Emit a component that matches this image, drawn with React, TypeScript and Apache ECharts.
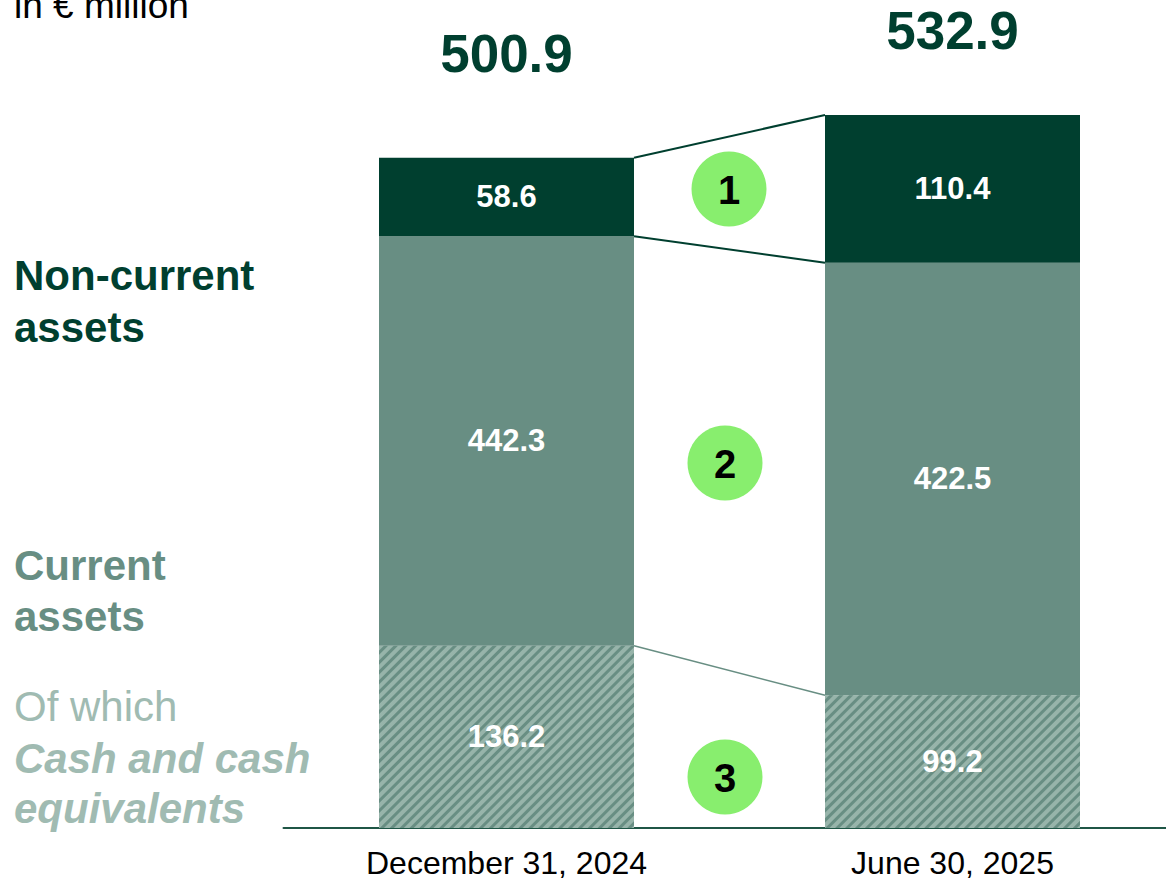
import React, { useEffect, useRef } from "react";
import * as echarts from "echarts";

const categories = ["December 31, 2024", "June 30, 2025"];
const cashValues = [136.2, 99.2];
const currentTotals = [442.3, 422.5];
const nonCurrentValues = [58.6, 110.4];
const totals = [500.9, 532.9];
const otherCurrent = currentTotals.map((v, i) => Math.round((v - cashValues[i]) * 10) / 10);
// connectors: [from value at bar 1, to value at bar 2]
const connectorFrom = [500.9, 442.3, 136.2];
const connectorTo = [532.9, 422.5, 99.2];
const markerLabels = ["1", "2", "3"];

const FONT = "'Liberation Sans', Arial, Helvetica, sans-serif";
const DARK = "#003f2f";
const MID = "#688e83";
const LIGHT = "#97b4aa";
const PALE = "#a0bbb2";
const BAR_W = 255;

export default function App() {
  const ref = useRef<HTMLDivElement>(null);
  useEffect(() => {
    if (!ref.current) return;
    const chart = echarts.init(ref.current, null, { renderer: "svg" });
    const connectorColors = [DARK, DARK, MID];
    const totalOffsets = [-104, -84];
    const markerPos = [
      [729, 189],
      [725, 463],
      [725, 777],
    ];
    const barLabel = {
      show: true,
      position: "inside",
      color: "#fff",
      fontFamily: FONT,
      fontWeight: "bold",
      fontSize: 31,
    };
    const option: any = {
      animation: false,
      grid: { left: 283.5, width: 892, top: 25.2, bottom: 53 },
      xAxis: {
        type: "category",
        data: categories,
        axisLine: { lineStyle: { color: "#1f5646", width: 2 } },
        axisTick: { show: false },
        axisLabel: { color: "#000", fontFamily: FONT, fontSize: 32, lineHeight: 30, margin: 20 },
      },
      yAxis: {
        type: "value",
        min: 0,
        max: 600,
        show: false,
        splitLine: { show: false },
      },
      series: [
        {
          name: "Cash",
          type: "bar",
          stack: "a",
          barWidth: BAR_W,
          data: cashValues,
          itemStyle: {
            color: LIGHT,
            decal: {
              symbol: "rect",
              symbolSize: 1,
              dashArrayX: [1, 0],
              dashArrayY: [2.5, 4],
              rotation: -Math.PI / 4,
              color: MID,
            },
          },
          label: { ...barLabel, formatter: (p: any) => cashValues[p.dataIndex].toFixed(1) },
        },
        {
          name: "Current",
          type: "bar",
          stack: "a",
          barWidth: BAR_W,
          data: otherCurrent,
          itemStyle: { color: MID },
          label: { ...barLabel, formatter: (p: any) => currentTotals[p.dataIndex].toFixed(1) },
        },
        {
          name: "Non-current",
          type: "bar",
          stack: "a",
          barWidth: BAR_W,
          data: nonCurrentValues,
          itemStyle: { color: DARK },
          label: { ...barLabel, formatter: (p: any) => nonCurrentValues[p.dataIndex].toFixed(1) },
        },
        {
          name: "Total",
          type: "custom",
          data: totals.map((v, i) => [i, v]),
          encode: { x: 0, y: 1 },
          renderItem: (params: any, api: any) => {
            const i = params.dataIndex;
            const p = api.coord([api.value(0), api.value(1)]);
            return {
              type: "text",
              x: p[0],
              y: p[1] + totalOffsets[i],
              style: {
                text: totals[i].toFixed(1),
                font: `bold 53px ${FONT}`,
                fill: DARK,
                align: "center",
                verticalAlign: "middle",
                textAlign: "center",
                textVerticalAlign: "middle",
              },
            };
          },
          z: 5,
        },
        {
          name: "Connectors",
          type: "custom",
          data: connectorFrom.map((v, i) => [0, v, connectorTo[i]]),
          encode: { x: 0, y: 1 },
          renderItem: (params: any, api: any) => {
            const i = params.dataIndex;
            const p1 = api.coord([0, api.value(1)]);
            const p2 = api.coord([1, api.value(2)]);
            return {
              type: "line",
              shape: { x1: p1[0] + BAR_W / 2, y1: p1[1], x2: p2[0] - BAR_W / 2, y2: p2[1] },
              style: { stroke: connectorColors[i], lineWidth: i === 2 ? 1.5 : 2 },
            };
          },
          z: 3,
        },
      ],
      graphic: [
        ...markerLabels.flatMap((t, i) => [
          {
            type: "circle",
            shape: { cx: markerPos[i][0], cy: markerPos[i][1], r: 37.5 },
            style: { fill: "#88ee6e" },
            z: 10,
          },
          {
            type: "text",
            x: markerPos[i][0],
            y: markerPos[i][1] + 1,
            style: {
              text: t,
              font: `bold 40px ${FONT}`,
              fill: "#000",
              textAlign: "center",
              textVerticalAlign: "middle",
            },
            z: 11,
          },
        ]),
        { type: "text", x: 14, y: 5, style: { text: "in € million", font: `37px ${FONT}`, fill: "#000", textVerticalAlign: "middle" } },
        { type: "text", x: 14, y: 275, style: { text: "Non-current", font: `bold 42px ${FONT}`, fill: DARK, textVerticalAlign: "middle" } },
        { type: "text", x: 14, y: 327, style: { text: "assets", font: `bold 42px ${FONT}`, fill: DARK, textVerticalAlign: "middle" } },
        { type: "text", x: 14, y: 565, style: { text: "Current", font: `bold 42px ${FONT}`, fill: MID, textVerticalAlign: "middle" } },
        { type: "text", x: 14, y: 616, style: { text: "assets", font: `bold 42px ${FONT}`, fill: MID, textVerticalAlign: "middle" } },
        { type: "text", x: 14, y: 706, style: { text: "Of which", font: `42px ${FONT}`, fill: PALE, textVerticalAlign: "middle" } },
        { type: "text", x: 14, y: 758, style: { text: "Cash and cash", font: `italic bold 42px ${FONT}`, fill: PALE, textVerticalAlign: "middle" } },
        { type: "text", x: 14, y: 808, style: { text: "equivalents", font: `italic bold 42px ${FONT}`, fill: PALE, textVerticalAlign: "middle" } },
      ],
    };
    chart.setOption(option);
    return () => chart.dispose();
  }, []);
  return (
    <div
      style={{ position: "absolute", left: 0, top: 0, width: 1166, height: 881, overflow: "hidden", background: "#fff" }}
    >
      <div ref={ref} style={{ width: 1180, height: 881 }} />
    </div>
  );
}
